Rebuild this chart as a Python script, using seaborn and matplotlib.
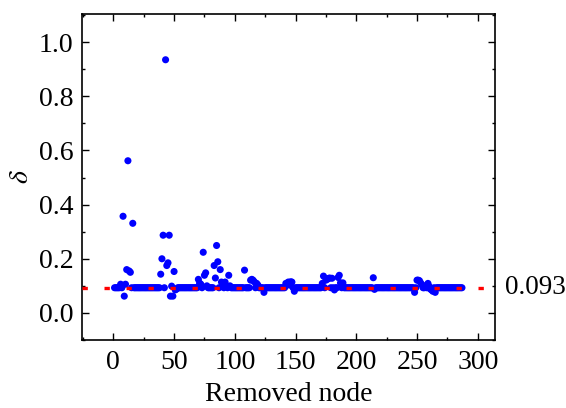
import matplotlib
matplotlib.use("Agg")
import matplotlib.pyplot as plt
import matplotlib.transforms as mtransforms
from matplotlib.ticker import MultipleLocator
import seaborn as sns
import pandas as pd

# ---- data ----
node = list(range(1, 288))
delta = [
    0.093, 0.093, 0.093, 0.093, 0.093, 0.106, 0.093, 0.357, 0.062, 0.106,
    0.160, 0.562, 0.155, 0.150, 0.093, 0.331, 0.093, 0.093, 0.093, 0.093,
    0.093, 0.093, 0.093, 0.093, 0.093, 0.093, 0.093, 0.093, 0.093, 0.093,
    0.093, 0.093, 0.093, 0.093, 0.093, 0.093, 0.093, 0.093, 0.143, 0.200,
    0.287, 0.093, 0.935, 0.175, 0.185, 0.287, 0.062, 0.099, 0.062, 0.153,
    0.085, 0.088, 0.093, 0.093, 0.093, 0.093, 0.093, 0.093, 0.093, 0.093,
    0.093, 0.093, 0.093, 0.093, 0.093, 0.093, 0.093, 0.093, 0.093, 0.124,
    0.110, 0.106, 0.093, 0.224, 0.139, 0.148, 0.100, 0.093, 0.093, 0.093,
    0.093, 0.093, 0.175, 0.129, 0.249, 0.189, 0.093, 0.160, 0.114, 0.103,
    0.093, 0.114, 0.100, 0.093, 0.139, 0.100, 0.093, 0.093, 0.093, 0.093,
    0.093, 0.093, 0.093, 0.093, 0.093, 0.093, 0.093, 0.158, 0.093, 0.093,
    0.093, 0.093, 0.121, 0.124, 0.121, 0.115, 0.093, 0.109, 0.103, 0.093,
    0.093, 0.093, 0.093, 0.076, 0.093, 0.093, 0.093, 0.093, 0.093, 0.093,
    0.093, 0.093, 0.093, 0.093, 0.093, 0.093, 0.093, 0.093, 0.093, 0.093,
    0.093, 0.109, 0.105, 0.114, 0.103, 0.115, 0.114, 0.093, 0.080, 0.093,
    0.093, 0.093, 0.093, 0.093, 0.093, 0.093, 0.093, 0.093, 0.093, 0.093,
    0.093, 0.093, 0.093, 0.093, 0.093, 0.093, 0.093, 0.093, 0.093, 0.093,
    0.093, 0.109, 0.136, 0.093, 0.121, 0.124, 0.127, 0.129, 0.093, 0.128,
    0.093, 0.085, 0.093, 0.093, 0.131, 0.139, 0.111, 0.093, 0.111, 0.093,
    0.093, 0.093, 0.093, 0.093, 0.093, 0.093, 0.093, 0.093, 0.093, 0.093,
    0.093, 0.093, 0.093, 0.093, 0.093, 0.093, 0.093, 0.093, 0.093, 0.093,
    0.093, 0.093, 0.093, 0.130, 0.087, 0.093, 0.093, 0.093, 0.093, 0.093,
    0.093, 0.093, 0.093, 0.093, 0.093, 0.093, 0.093, 0.093, 0.093, 0.093,
    0.093, 0.093, 0.093, 0.093, 0.093, 0.093, 0.093, 0.093, 0.093, 0.093,
    0.093, 0.093, 0.093, 0.093, 0.093, 0.093, 0.093, 0.076, 0.093, 0.121,
    0.121, 0.119, 0.111, 0.104, 0.093, 0.093, 0.100, 0.093, 0.109, 0.098,
    0.088, 0.085, 0.080, 0.093, 0.076, 0.093, 0.093, 0.093, 0.093, 0.093,
    0.093, 0.093, 0.093, 0.093, 0.093, 0.093, 0.093, 0.093, 0.093, 0.093,
    0.093, 0.093, 0.093, 0.093, 0.093, 0.093, 0.093,
]
mean_delta = 0.093
mean_label = "0.093"
x_ticks = [0, 50, 100, 150, 200, 250, 300]
y_ticks = [0.0, 0.2, 0.4, 0.6, 0.8, 1.0]
x_label = "Removed node"
y_label = r"$\delta$"

# ---- style ----
sns.set_style("ticks")
plt.rcParams['font.family'] = ['Liberation Serif', 'DejaVu Serif']
plt.rcParams['mathtext.fontset'] = 'stix'
plt.rcParams['text.color'] = 'black'
plt.rcParams['axes.labelcolor'] = 'black'
plt.rcParams['xtick.color'] = 'black'
plt.rcParams['ytick.color'] = 'black'

fig = plt.figure(figsize=(5.66, 4.08), dpi=100)
ax = fig.add_axes([82 / 566, 68 / 408, 413 / 566, 326 / 408])

df = pd.DataFrame({"node": node, "delta": delta})
sns.scatterplot(data=df, x="node", y="delta", ax=ax, color="#0000FF",
                s=26, edgecolor="none", linewidth=0, zorder=2)
ax.axhline(mean_delta, color="#FF0000", lw=2.4,
           linestyle=(0, (1.6, 5.0)), zorder=3)

ax.set_xlim(-25.8, 314.2)
ax.set_ylim(-0.1, 1.104)
ax.set_xticks(x_ticks)
ax.set_yticks(y_ticks)
ax.set_yticklabels([f"{v:.1f}" for v in y_ticks])
ax.xaxis.set_minor_locator(MultipleLocator(25))
ax.yaxis.set_minor_locator(MultipleLocator(0.1))
ax.tick_params(which="both", direction="in", top=True, right=True,
               width=1.0, colors="black", labelsize=20, labelcolor="black")
ax.tick_params(which="major", length=5)
ax.tick_params(which="minor", length=2.5)
ax.tick_params(axis="x", which="major", pad=7)
ax.tick_params(axis="y", which="major", pad=6)
for sp in ax.spines.values():
    sp.set_linewidth(1.2)
    sp.set_color("black")

ax.set_xlabel(x_label, fontsize=20, labelpad=5, color="black")
ax.set_ylabel(y_label, fontsize=20, color="black")
ax.yaxis.set_label_coords(-0.116, 0.5)

trans = mtransforms.blended_transform_factory(ax.transAxes, ax.transData)
ax.text(1.024, mean_delta, mean_label, transform=trans, ha="left",
        va="center", fontsize=19.5, color="black")

fig.savefig("out.png", dpi=100)
